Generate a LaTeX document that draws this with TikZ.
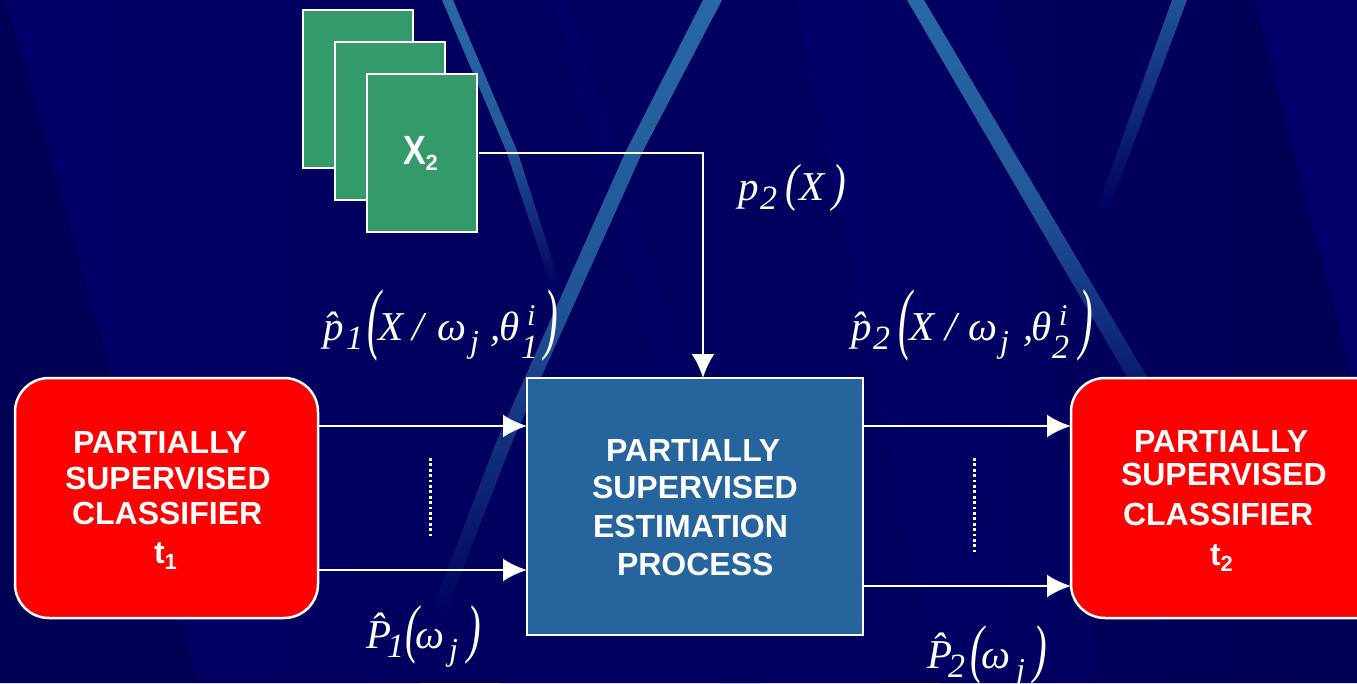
\documentclass[tikz,border=0pt]{standalone}
\usepackage{fontspec}
\usepackage{graphicx}
\usetikzlibrary{arrows.meta}
\setmainfont{Liberation Sans}
\newfontfamily\mathser{Liberation Serif}
\definecolor{bgbase}{RGB}{0,0,94}
\definecolor{bgdark}{RGB}{0,0,84}
\definecolor{bglight}{RGB}{0,0,104}
\definecolor{streak}{RGB}{40,104,164}
\definecolor{boxgreen}{RGB}{53,154,106}
\definecolor{boxblue}{RGB}{38,100,158}
\newcommand\boxtext{\fontsize{32}{36}\selectfont\bfseries}
\newcommand\mfont{\fontsize{41}{43}\selectfont\mathser\itshape}
\newcommand\subfs{\fontsize{22}{23}\selectfont}
\newcommand\place[2]{\rlap{\hspace{#1pt}#2}}
\newcommand\msub[1]{\raisebox{-9.5pt}{\fontsize{34}{36}\selectfont #1}}
\newcommand\lowsub[1]{\raisebox{-18pt}{\fontsize{34}{36}\selectfont #1}}
\newcommand\msup[1]{\raisebox{15pt}{\fontsize{30}{32}\selectfont #1}}
\newcommand\mj{\raisebox{-12pt}{\fontsize{32}{34}\selectfont j}}
\newcommand\lparen{\raisebox{-4pt}{\scalebox{1}[1.93]{(}}}
\newcommand\rparen{\raisebox{-4pt}{\scalebox{1}[1.93]{)}}}
\newcommand\mlparen{\raisebox{0pt}{\scalebox{1}[1.27]{(}}}
\newcommand\mrparen{\raisebox{0pt}{\scalebox{1}[1.27]{)}}}
\newcommand\wlparen{\raisebox{-2pt}{\scalebox{1}[1.58]{(}}}
\newcommand\wrparen{\raisebox{-2pt}{\scalebox{1}[1.58]{)}}}
\tikzset{
  every node/.style={inner sep=0pt,outer sep=0pt,text=white},
  redbox/.style={draw=white,line width=2.5pt,fill=red,rounded corners=34pt,anchor=north west},
  sheet/.style={draw=white,line width=2.5pt,fill=boxgreen,minimum width=110pt,minimum height=158pt,anchor=north west},
  bluebox/.style={draw=white,line width=2.5pt,fill=boxblue,minimum width=336pt,minimum height=257pt,anchor=north west},
  boxlabel/.style={align=left,anchor=base west,font=\boxtext},
  mathlabel/.style={anchor=base west,font=\mfont},
  conn/.style={draw=white,line width=2.6pt},
  arrowed/.style={conn,-{Latex[length=24pt,width=23pt]}},
  dots/.style={draw=white,line width=2.8pt,dash pattern=on 2.7pt off 2.7pt},
}
\begin{document}
\begin{tikzpicture}[x=1pt,y=-1pt]
\useasboundingbox (0,0) rectangle (1357,683);
\clip (0,0) rectangle (1357,683);
% background
\fill[bgbase] (0,0) rectangle (1357,683);
\fill[bgdark] (0,0) -- (6,0) -- (198,683) -- (0,683) -- cycle;
\shade[left color=bglight,right color=bgbase] (6,0) -- (320,0) -- (420,683) -- (198,683) -- cycle;
\shade[left color=bgbase,middle color=bgdark,right color=bgbase] (460,0) -- (720,0) -- (880,683) -- (500,683) -- cycle;
\shade[left color=bglight,right color=bgbase,opacity=.9] (553,0) -- (568,0) -- (700,420) -- (760,683) -- (720,683) -- (650,340) -- cycle;
\shade[left color=bglight,right color=bgbase] (795,0) -- (1000,0) -- (1100,683) -- (940,683) -- cycle;
\shade[left color=bgbase,right color=bgdark] (1000,0) -- (1255,0) -- (1357,400) -- (1357,683) -- (1100,683) -- cycle;
\fill[bglight] (1255,0) -- (1357,0) -- (1357,400) -- cycle;
% streaks
\shade[top color=streak,bottom color=bgbase,middle color=streak!85!bgbase]
  (442,0) -- (453,0) -- (518,153) -- (562,290) -- (552,290) -- (507,153) -- cycle;
\shade[top color=streak,bottom color=bgbase,middle color=streak!80!bgbase]
  (703,0) -- (722,0) -- (642,153) -- (513,440) -- (443,620) -- (428,620) -- (497,440) -- (625,153) -- cycle;
\shade[top color=streak,bottom color=streak!25!bgbase,middle color=streak!85!bgbase]
  (907,0) -- (924,0) -- (1150,382) -- (1130,382) -- cycle;
\shade[top color=streak!80!bgbase,bottom color=bgbase]
  (1172,0) -- (1187,0) -- (1108,212) -- (1097,208) -- cycle;
% sheets
\node[sheet] (s1) at (303,10) {};
\node[sheet] (s2) at (335,42) {};
\node[sheet] (s3) at (367,74) {\fontsize{34}{36}\selectfont\bfseries\hspace*{-3pt}\scalebox{1}[1.2]{X}\raisebox{-6pt}{\subfs 2}};
% boxes
\node[redbox,minimum width=303pt,minimum height=240pt] (r1) at (15,378) {};
\node[bluebox] (b) at (527,378) {};
\node[redbox,minimum width=330pt,minimum height=240pt] (r2) at (1071,378) {};
\node[boxlabel] (r1t) at (65,563) {\hspace*{8pt}PARTIALLY\\SUPERVISED\\[-1pt]\hspace*{7pt}CLASSIFIER\\[3pt]\hspace*{89pt}t\raisebox{-6pt}{\subfs 1}};
\node[boxlabel] (bt) at (592,575) {\hspace*{14pt}PARTIALLY\\[1pt]SUPERVISED\\[3pt]\hspace*{1pt}ESTIMATION\\[2pt]\hspace*{25pt}PROCESS};
\node[boxlabel] (r2t) at (1121,565) {\hspace*{13pt}PARTIALLY\\[-3pt]SUPERVISED\\[4pt]\hspace*{2pt}CLASSIFIER\\[4pt]\hspace*{89pt}t\raisebox{-6pt}{\subfs 2}};
% connector ends
\coordinate (intop) at (703,378);
\coordinate (a1) at (318,426); \coordinate (a2) at (527,426);
\coordinate (a3) at (318,570); \coordinate (a4) at (527,570);
\coordinate (a5) at (863,426); \coordinate (a6) at (1071,426);
\coordinate (a7) at (863,586); \coordinate (a8) at (1071,586);
\coordinate (d1) at (430.5,458); \coordinate (d2) at (430.5,538);
\coordinate (d3) at (974.5,458); \coordinate (d4) at (974.5,552);
\draw[arrowed] ([xshift=2pt]s3.east) -| (intop);
\draw[arrowed] (a1) -- (a2);
\draw[arrowed] (a3) -- (a4);
\draw[arrowed] (a5) -- (a6);
\draw[arrowed] (a7) -- (a8);
\draw[dots] (d1) -- (d2);
\draw[dots] (d3) -- (d4);
% math labels
\node[mathlabel] (m1) at (738,200) {\makebox[108pt][l]{\place{0}{p}\place{22}{\msub{2}}\place{47}{\mlparen}\place{61}{X}\place{94}{\mrparen}}};
\node[mathlabel] (m2) at (323,340) {\makebox[232pt][l]{\place{0}{\^p}\place{23}{\msub{1}}\place{44}{\lparen}\place{55}{X}\place{90}{/}\place{114}{ω}\place{147}{\mj}\place{167}{,}\place{176}{θ}\place{204}{\msup{i}}\place{198}{\lowsub{1}}\place{221}{\rparen}}};
\node[mathlabel] (m3) at (851,340) {\makebox[241pt][l]{\place{0}{\^p}\place{22}{\msub{2}}\place{47}{\lparen}\place{58}{X}\place{94}{/}\place{117}{ω}\place{149}{\mj}\place{172}{,}\place{180}{θ}\place{208}{\msup{i}}\place{201}{\lowsub{2}}\place{228}{\rparen}}};
\node[mathlabel] (m4) at (366,648) {\makebox[114pt][l]{\place{0}{\^P}\place{21}{\msub{1}}\place{39}{\wlparen}\place{49}{ω}\place{83}{\mj}\place{101}{\wrparen}}};
\node[mathlabel] (m5) at (927,668) {\makebox[120pt][l]{\place{0}{\^P}\place{21}{\msub{2}}\place{43}{\wlparen}\place{54}{ω}\place{89}{\mj}\place{106}{\wrparen}}};
\end{tikzpicture}
\end{document}
